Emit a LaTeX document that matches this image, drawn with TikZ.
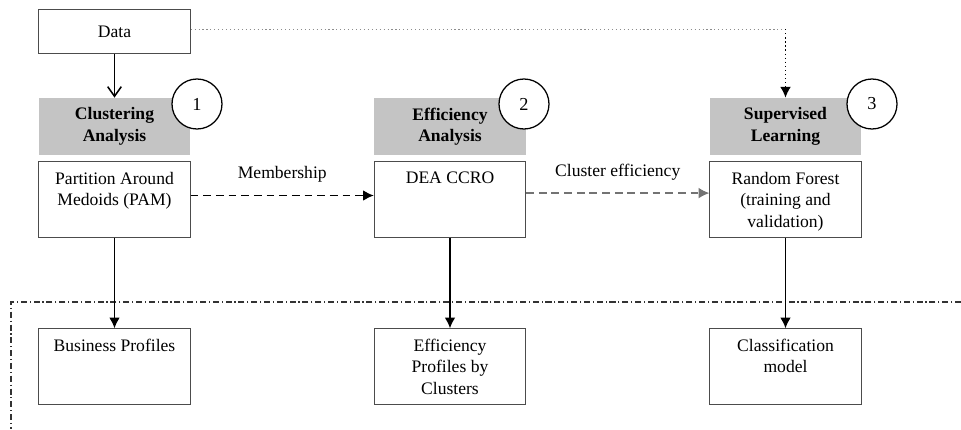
\documentclass[tikz,border=0pt]{standalone}
\usepackage{fontspec}
\setmainfont{Liberation Serif}
\usetikzlibrary{arrows.meta}

\tikzset{
  box/.style={draw=black!70,line width=0.8pt,minimum width=3.78cm,minimum height=1.88cm,inner sep=0pt},
  boxtext/.style={anchor=north,align=center,inner sep=0pt,yshift=-0.26cm,font=\fontsize{12.5}{15.3}\selectfont},
  head/.style={fill=black!23,minimum width=3.78cm,minimum height=1.43cm,align=center,inner sep=0pt,font=\bfseries\fontsize{12.5}{15.3}\selectfont},
  numcircle/.style={circle,draw,line width=0.9pt,fill=white,minimum size=1.25cm,inner sep=0pt,font=\fontsize{13}{15}\selectfont},
  flow/.style={line width=1.2pt,-{Latex[length=0.27cm,width=0.27cm]}},
  dashflow/.style={flow,dash pattern=on 5.5pt off 3.5pt},
  lbl/.style={midway,above=0.3cm,inner sep=0pt,font=\fontsize{12.5}{15.3}\selectfont}
}

\begin{document}
\begin{tikzpicture}[x=0.025cm,y=-0.025cm]
\useasboundingbox (0,0) rectangle (961,429);
% Data
\node[box,minimum height=1.08cm,font=\fontsize{12.5}{15.3}\selectfont] (data) at (114.5,31.5) {Data};
% Step headers
\node[head] (h1) at (114.5,126.5) {Clustering\\Analysis};
\node[head] (h2) at (450,126.5) {Efficiency\\Analysis};
\node[head] (h3) at (785.5,126.5) {Supervised\\Learning};
\node[numcircle] (c1) at (197,104) {1};
\node[numcircle] (c2) at (524,104) {2};
\node[numcircle] (c3) at (872,104) {3};
% Methods
\node[box] (pam) at (114.5,199.5) {};
\node[boxtext] (pamtext) at (pam.north) {Partition Around\\Medoids (PAM)};
\node[box] (dea) at (450,199.5) {};
\node[boxtext] (deatext) at (dea.north) {DEA CCRO};
\node[box] (rf) at (785.5,199.5) {};
\node[boxtext] (rftext) at (rf.north) {Random Forest\\(training and\\validation)};
% Results
\node[box] (bp) at (114.5,366.5) {};
\node[boxtext] (bptext) at (bp.north) {Business Profiles};
\node[box] (ep) at (450,366.5) {};
\node[boxtext] (eptext) at (ep.north) {Efficiency\\Profiles by\\Clusters};
\node[box] (cm) at (785.5,366.5) {};
\node[boxtext] (cmtext) at (cm.north) {Classification\\model};
% Results frame
\draw[black!80,line width=0.8pt,dash pattern=on 4.3pt off 2pt on 0.8pt off 2pt] (961,302) -- (11,302) -- (11,429);
% links
\draw[line width=1.1pt,-{Straight Barb[length=0.24cm,width=0.34cm]}] (data) -- (h1);
\coordinate (corner) at ([yshift=0.06cm]data.east -| h3.north);
\draw[black!45,line width=0.8pt,dotted] ([yshift=0.06cm]data.east) -- (corner);
\draw[line width=0.9pt,dotted,-{Latex[length=0.27cm,width=0.27cm]}] (corner) -- (h3.north);
\draw[dashflow] ([yshift=0.1cm]pam.east) -- node[lbl] (memb) {Membership} ([yshift=0.1cm]dea.west);
\draw[dashflow,black!55,line width=0.9pt] ([yshift=0.16cm]dea.east) -- node[lbl,text=black] (clef) {Cluster efficiency} ([yshift=0.16cm]rf.west);
\draw[flow] (pam) -- (bp);
\draw[flow] (dea) -- (ep);
\draw[flow] (rf) -- (cm);
\end{tikzpicture}
\end{document}
